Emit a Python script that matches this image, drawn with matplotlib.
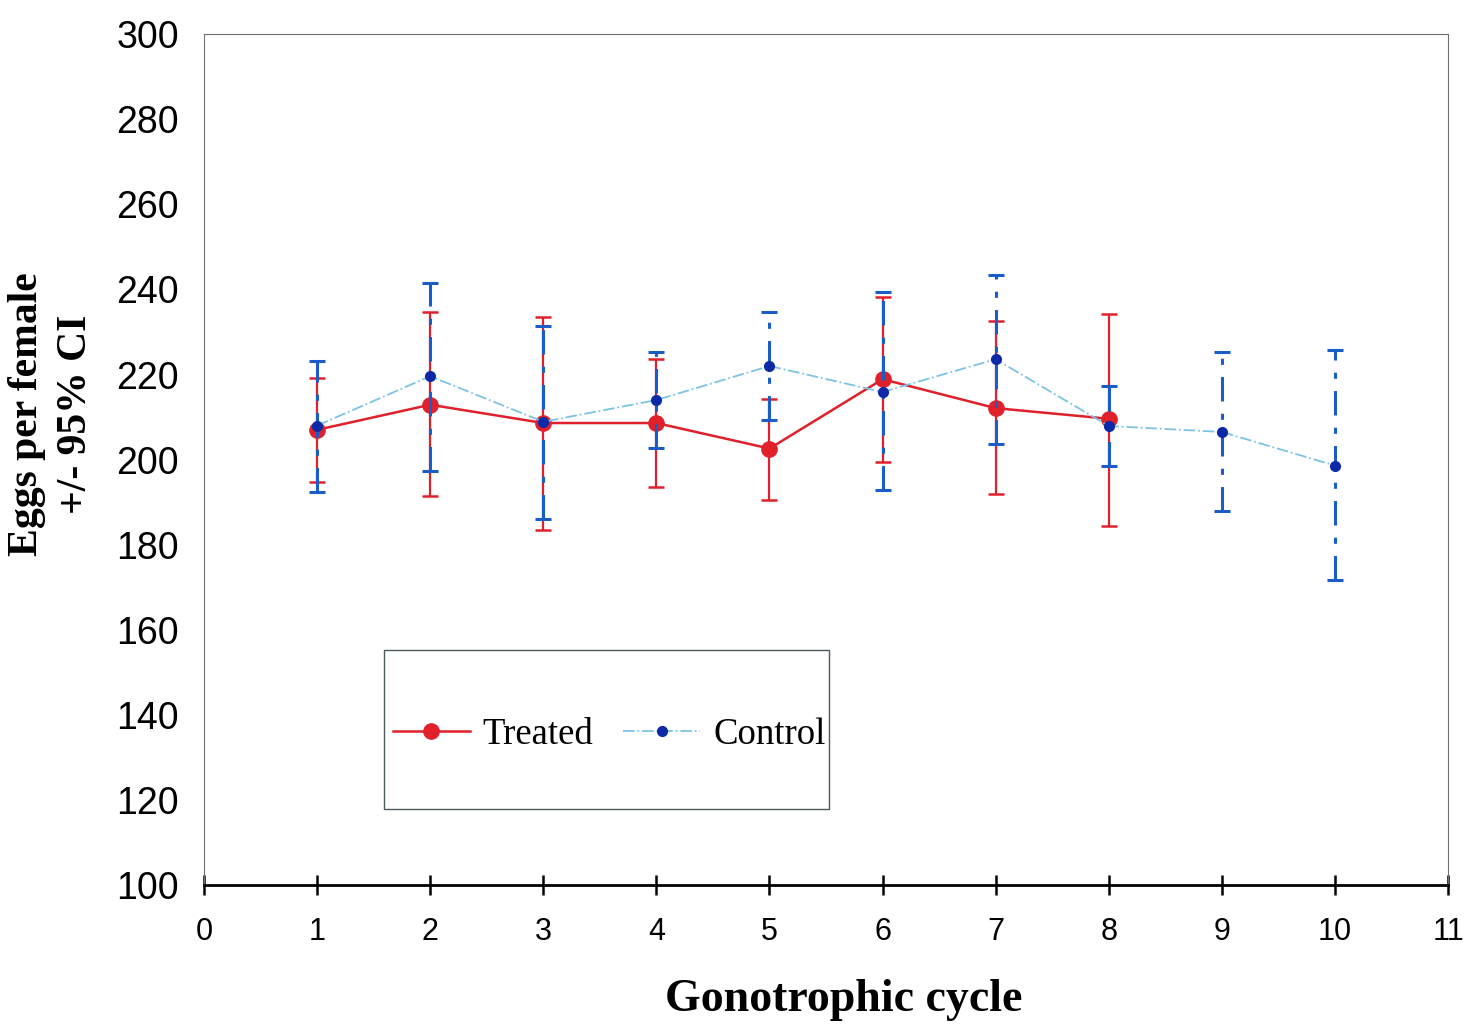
import numpy as np
import matplotlib
matplotlib.use("Agg")
import matplotlib.pyplot as plt
from matplotlib.lines import Line2D
from matplotlib.patches import Rectangle

# data
cycle_t = [1, 2, 3, 4, 5, 6, 7, 8]
treated = [207.0, 212.9, 208.6, 208.6, 202.6, 218.9, 212.1, 209.6]
treated_hi = [219.2, 234.6, 233.6, 223.6, 214.3, 238.3, 232.5, 234.3]
treated_lo = [194.7, 191.4, 183.4, 193.5, 190.4, 199.5, 191.8, 184.3]

cycle_c = [1, 2, 3, 4, 5, 6, 7, 8, 9, 10]
control = [208.0, 219.6, 208.9, 214.0, 222.0, 215.9, 223.6, 207.9, 206.5, 198.6]
control_hi = [223.1, 241.6, 231.5, 225.2, 234.8, 239.5, 243.5, 217.3, 225.2, 225.7]
control_lo = [192.3, 197.4, 186.0, 202.8, 209.3, 192.8, 203.7, 198.6, 187.9, 171.7]

t = np.array(treated)
c = np.array(control)
t_err = [t - np.array(treated_lo), np.array(treated_hi) - t]
c_err = [c - np.array(control_lo), np.array(control_hi) - c]

fig = plt.figure(figsize=(14.83, 10.25), dpi=100)
ax = fig.add_axes([0.1376, 0.1366, 0.8388, 0.83])

red = "#e0202a"
lightblue = "#7cc3e6"
darkblue = "#0c2aa8"

ax.errorbar(cycle_t, t, yerr=t_err, color=red, lw=1.8, marker="o", ms=11,
            mfc=red, mec=red, ecolor=red, elinewidth=1.6, capsize=5.5,
            capthick=1.8, zorder=3)

eb2 = ax.errorbar(cycle_c, c, yerr=c_err, color=lightblue, lw=1.3, ls="-.",
                  marker="o", ms=7, mfc=darkblue, mec=darkblue,
                  ecolor="#1a5cc8", elinewidth=2.2, capsize=5.5, capthick=2.2,
                  zorder=4)
eb2[2][0].set_linestyle((0, (8, 4, 2, 4)))

ax.set_xlim(0, 11)
ax.set_ylim(100, 300)
ax.set_xticks(np.arange(0, 12, 1))
ax.set_yticks(np.arange(100, 320, 20))

for s in ["top", "right", "left"]:
    ax.spines[s].set_linewidth(0.8)
    ax.spines[s].set_color("#707070")
ax.spines["bottom"].set_linewidth(2)
ax.spines["bottom"].set_color("black")

ax.tick_params(axis="x", direction="inout", length=14, width=1.8, pad=16)
ax.tick_params(axis="y", length=0, pad=18)
for lab in ax.get_xticklabels() + ax.get_yticklabels():
    lab.set_family("Liberation Sans")
for lab in ax.get_yticklabels():
    lab.set_fontsize(27)
for lab in ax.get_xticklabels():
    lab.set_fontsize(22)

ax.set_xlabel("Gonotrophic cycle", family="Liberation Serif", weight="bold",
              fontsize=33)
ax.xaxis.set_label_coords(0.514, -0.111)
ax.set_ylabel("Eggs per female\n+/- 95% CI", family="Liberation Serif",
              weight="bold", fontsize=30, linespacing=1.37)
ax.yaxis.set_label_coords(-0.088, 0.553)

# legend box
ax.add_patch(Rectangle((0.145, 0.089), 0.357, 0.187, transform=ax.transAxes,
                       fill=False, edgecolor="#4a5a5a", lw=1.0, zorder=5))
handles = [
    Line2D([], [], color=red, lw=1.8, marker="o", ms=11, mfc=red, mec=red),
    Line2D([], [], color=lightblue, lw=1.3, ls="-.", marker="o", ms=7,
           mfc=darkblue, mec=darkblue),
]
leg = ax.legend(handles, ["Treated", "Control"], loc="center",
                bbox_to_anchor=(0.3256, 0.177),
                ncol=2, frameon=False,
                prop={"family": "Liberation Serif", "size": 26.5},
                handlelength=2.1, handletextpad=0.35, columnspacing=0.8,
                borderaxespad=0, numpoints=1)

fig.savefig("out.png", dpi=100)
